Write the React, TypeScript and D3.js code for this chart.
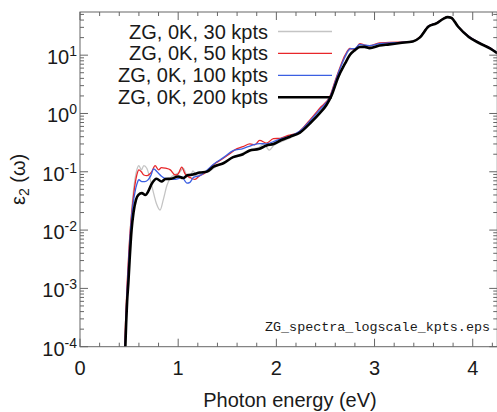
import React from "react";
import * as d3 from "d3";

const W = 497;
const H = 412;

const xTicks = [0, 1, 2, 3, 4];
const yDecades = [-4, -3, -2, -1, 0, 1];

const seriesLabels = ["ZG, 0K, 30 kpts", "ZG, 0K, 50 kpts", "ZG, 0K, 100 kpts", "ZG, 0K, 200 kpts"];
const seriesColors = ["#c4c4c4", "#e8262a", "#3b5fe2", "#000000"];
const seriesWidths = [1.3, 1.3, 1.3, 2.6];

const kpts30: [number, number][] = [
  [0.458, 1e-4], [0.468, 3e-4], [0.482, 1.2e-3], [0.5, 5e-3], [0.52, 0.016], [0.54, 0.04], [0.56, 0.075],
  [0.58, 0.11], [0.6, 0.128], [0.625, 0.108], [0.65, 0.128], [0.68, 0.115], [0.71, 0.08], [0.74, 0.05],
  [0.78, 0.028], [0.815, 0.022], [0.85, 0.034], [0.885, 0.058], [0.92, 0.078], [0.97, 0.09], [1.02, 0.1],
  [1.05, 0.115], [1.09, 0.085], [1.12, 0.078], [1.15, 0.104], [1.19, 0.083], [1.25, 0.1], [1.3, 0.1],
  [1.375, 0.12], [1.46, 0.14], [1.56, 0.18], [1.66, 0.21], [1.73, 0.24], [1.82, 0.26], [1.87, 0.3],
  [1.93, 0.235], [1.97, 0.28], [2.05, 0.33], [2.14, 0.38], [2.24, 0.47], [2.34, 0.7], [2.44, 1.08],
  [2.55, 2.0], [2.6, 3.4], [2.65, 5.8], [2.7, 9.2], [2.75, 12.3], [2.8, 12.5], [2.85, 14.4], [2.9, 14.2],
  [2.95, 13.8], [3.05, 15.2], [3.15, 15.8], [3.26, 16.3], [3.39, 17.2], [3.46, 20], [3.55, 31], [3.63, 35],
  [3.7, 42], [3.745, 45], [3.78, 44], [3.85, 31], [3.96, 20.5], [4.07, 16], [4.18, 13], [4.25, 10.8],
];

const kpts50: [number, number][] = [
  [0.455, 1e-4], [0.465, 3e-4], [0.48, 1.2e-3], [0.5, 5e-3], [0.52, 0.015], [0.54, 0.033], [0.56, 0.06],
  [0.58, 0.09], [0.6, 0.108], [0.625, 0.1], [0.65, 0.088], [0.68, 0.086], [0.71, 0.092], [0.73, 0.1],
  [0.765, 0.128], [0.8, 0.108], [0.83, 0.118], [0.87, 0.115], [0.92, 0.108], [0.97, 0.088], [1.0, 0.092],
  [1.036, 0.12], [1.07, 0.092], [1.12, 0.08], [1.17, 0.074], [1.22, 0.086], [1.27, 0.094], [1.33, 0.12],
  [1.38, 0.14], [1.43, 0.158], [1.5, 0.19], [1.6, 0.25], [1.66, 0.27], [1.73, 0.3], [1.78, 0.29],
  [1.83, 0.345], [1.9, 0.31], [1.97, 0.37], [2.04, 0.375], [2.12, 0.42], [2.21, 0.46], [2.34, 0.77],
  [2.44, 1.22], [2.55, 2.06], [2.6, 3.7], [2.65, 6.3], [2.7, 10], [2.75, 13], [2.8, 12.6], [2.85, 15.8],
  [2.9, 14.8], [2.95, 14.5], [3.05, 16.3], [3.15, 16.5], [3.26, 16.8], [3.39, 17.2], [3.46, 20.5],
  [3.55, 31.5], [3.63, 35.5], [3.7, 42.5], [3.745, 45.5], [3.78, 44], [3.85, 31], [3.96, 21], [4.07, 16.2],
  [4.18, 13.2], [4.25, 11],
];

const kpts100: [number, number][] = [
  [0.458, 1e-4], [0.468, 3e-4], [0.482, 1.1e-3], [0.5, 4e-3], [0.52, 0.013], [0.54, 0.028], [0.56, 0.045],
  [0.58, 0.062], [0.6, 0.073], [0.63, 0.068], [0.66, 0.068], [0.69, 0.072], [0.72, 0.085], [0.75, 0.112],
  [0.79, 0.098], [0.83, 0.084], [0.87, 0.077], [0.92, 0.076], [0.97, 0.074], [1.0, 0.076], [1.036, 0.082],
  [1.09, 0.064], [1.12, 0.066], [1.155, 0.08], [1.22, 0.086], [1.29, 0.105], [1.36, 0.135], [1.46, 0.175],
  [1.56, 0.23], [1.66, 0.25], [1.75, 0.285], [1.83, 0.305], [1.9, 0.3], [1.97, 0.33], [2.05, 0.37],
  [2.14, 0.41], [2.24, 0.5], [2.34, 0.74], [2.44, 1.15], [2.55, 2.0], [2.6, 3.5], [2.65, 6.0], [2.7, 9.5],
  [2.75, 12.8], [2.8, 13.0], [2.85, 15.3], [2.9, 14.8], [2.95, 14.6], [3.05, 15.8], [3.15, 16.2],
  [3.26, 16.6], [3.39, 17.3], [3.46, 20.2], [3.55, 31.5], [3.63, 35.5], [3.7, 42.5], [3.745, 45],
  [3.78, 44], [3.85, 31], [3.96, 21], [4.07, 16.2], [4.18, 13.2], [4.25, 11],
];

const kpts200: [number, number][] = [
  [0.462, 1e-4], [0.47, 2.5e-4], [0.48, 6e-4], [0.492, 1.2e-3], [0.505, 3e-3], [0.525, 0.01], [0.545, 0.02],
  [0.57, 0.033], [0.595, 0.04], [0.63, 0.043], [0.665, 0.04], [0.695, 0.046], [0.73, 0.062], [0.78, 0.076],
  [0.83, 0.068], [0.87, 0.075], [0.93, 0.076], [1.0, 0.083], [1.05, 0.078], [1.1, 0.088], [1.15, 0.09],
  [1.22, 0.097], [1.29, 0.1], [1.36, 0.122], [1.46, 0.14], [1.56, 0.178], [1.66, 0.2], [1.73, 0.232],
  [1.82, 0.245], [1.9, 0.283], [1.97, 0.3], [2.05, 0.35], [2.14, 0.4], [2.24, 0.47], [2.34, 0.67],
  [2.44, 1.0], [2.51, 1.4], [2.56, 2.0], [2.63, 4.2], [2.7, 7.2], [2.75, 10.2], [2.8, 12.2], [2.85, 13.8],
  [2.9, 13.9], [2.95, 13.2], [3.05, 14.6], [3.15, 15.3], [3.26, 16.2], [3.39, 17.2], [3.46, 20], [3.55, 31],
  [3.63, 35], [3.7, 42], [3.745, 45], [3.78, 44], [3.85, 31], [3.96, 20.5], [4.07, 16], [4.18, 13],
  [4.25, 10.8],
];

const allSeries = [kpts30, kpts50, kpts100, kpts200];

const L = 80, T = 12, B = 346.7;
const pxPerEv = 98.18;
const xMax = 4.25;
const R = L + xMax * pxPerEv;

export default function App() {
  const x = d3.scaleLinear().domain([0, xMax]).range([L, R]);
  const y = d3.scaleLog().domain([1e-4, 55]).range([B, T]);
  const line = d3
    .line<[number, number]>()
    .x((d) => x(d[0]))
    .y((d) => y(d[1]))
    .curve(d3.curveMonotoneX);

  const frame = "#666";
  const font = "'Liberation Sans', Arial, sans-serif";

  const xMinor = d3.range(0, xMax + 1e-9, 0.2).filter((v) => Math.abs(v - Math.round(v)) > 1e-6);
  const yMinor: number[] = [];
  yDecades.forEach((dec) => {
    for (let k = 2; k <= 9; k++) {
      const v = k * Math.pow(10, dec);
      if (v <= 55) yMinor.push(v);
    }
  });

  return (
    <div style={{ position: "fixed", left: 0, top: 0 }}>
      <svg width={W} height={H} style={{ display: "block", background: "#fff" }}>
        <defs>
          <clipPath id="plotClip">
            <rect x={L} y={T} width={R - L} height={B - T} />
          </clipPath>
        </defs>

        {/* ticks */}
        <g stroke={frame} strokeWidth={1}>
          {xTicks.map((t) => (
            <g key={"xt" + t}>
              <line x1={x(t)} x2={x(t)} y1={B} y2={B - 8} />
              <line x1={x(t)} x2={x(t)} y1={T} y2={T + 8} />
            </g>
          ))}
          {xMinor.map((t) => (
            <g key={"xm" + t}>
              <line x1={x(t)} x2={x(t)} y1={B} y2={B - 4} />
              <line x1={x(t)} x2={x(t)} y1={T} y2={T + 4} />
            </g>
          ))}
          {yDecades.map((d) => (
            <g key={"yt" + d}>
              <line x1={L} x2={L + 8} y1={y(Math.pow(10, d))} y2={y(Math.pow(10, d))} />
              <line x1={R} x2={R - 8} y1={y(Math.pow(10, d))} y2={y(Math.pow(10, d))} />
            </g>
          ))}
          {yMinor.map((v, i) => (
            <g key={"ym" + i}>
              <line x1={L} x2={L + 4} y1={y(v)} y2={y(v)} />
              <line x1={R} x2={R - 4} y1={y(v)} y2={y(v)} />
            </g>
          ))}
        </g>

        {/* curves */}
        <g clipPath="url(#plotClip)" fill="none">
          {allSeries.map((s, i) => (
            <path
              key={"s" + i}
              d={line(s) || ""}
              stroke={seriesColors[i]}
              strokeWidth={seriesWidths[i]}
              strokeLinejoin="round"
            />
          ))}
        </g>

        {/* frame */}
        <rect x={L} y={T} width={R - L} height={B - T} fill="none" stroke={frame} strokeWidth={1} />

        {/* x tick labels */}
        <g fontFamily={font} fontSize={20} fill="#1a1a1a" textAnchor="middle">
          {xTicks.map((t) => (
            <text key={"xl" + t} x={x(t)} y={375}>
              {t}
            </text>
          ))}
        </g>

        {/* y tick labels */}
        <g fontFamily={font} fill="#1a1a1a" textAnchor="end">
          {yDecades.map((d) => (
            <text key={"yl" + d} x={77} y={y(Math.pow(10, d)) + 9} fontSize={20}>
              10
              <tspan fontSize={14} dy={-8}>
                {d}
              </tspan>
            </text>
          ))}
        </g>

        {/* axis labels */}
        <text x={290} y={407} fontFamily={font} fontSize={20} fill="#1a1a1a" textAnchor="middle">
          Photon energy (eV)
        </text>
        <text
          transform={`translate(25, ${(T + B) / 2}) rotate(-90)`}
          fontFamily={font}
          fontSize={20}
          fill="#1a1a1a"
          textAnchor="middle"
        >
          ε<tspan fontSize={14} dy={4}>2</tspan>
          <tspan dy={-4}> (ω)</tspan>
        </text>

        {/* legend */}
        <g fontFamily={font} fontSize={20} fill="#1a1a1a">
          {seriesLabels.map((lab, i) => {
            const yy = 31.5 + i * 21.9;
            return (
              <g key={"lg" + i}>
                <text x={268} y={yy + 7} textAnchor="end">
                  {lab}
                </text>
                <line x1={278} x2={332} y1={yy} y2={yy} stroke={seriesColors[i]} strokeWidth={seriesWidths[i]} />
              </g>
            );
          })}
        </g>

        {/* filename annotation */}
        <text
          x={490}
          y={331}
          fontFamily="'Liberation Mono', 'DejaVu Sans Mono', monospace"
          fontSize={13.4}
          fill="#1a1a1a"
          textAnchor="end"
        >
          ZG_spectra_logscale_kpts.eps
        </text>
      </svg>
    </div>
  );
}
